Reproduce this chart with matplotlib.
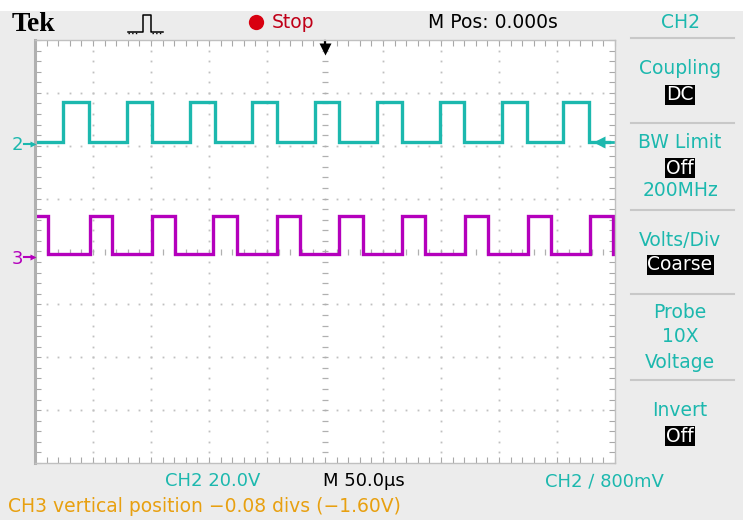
import numpy as np
import matplotlib
matplotlib.use('Agg')
import matplotlib.pyplot as plt
from matplotlib.lines import Line2D

# edge times in us (M Pos = 0 at screen centre), 50 us/div
ch2_rise = [-225.9, -170.7, -116.4, -62.9, -8.6, 44.8, 99.1, 152.6, 205.2]
ch2_fall = [-203.4, -149.1, -94.8, -41.4, 12.1, 66.4, 119.8, 174.1, 227.6]
ch3_fall = [-238.8, -183.6, -129.3, -75.9, -21.6, 32.8, 86.2, 140.5, 194.8, 248.3]
ch3_rise = [-202.6, -149.1, -96.6, -41.4, 12.1, 66.4, 120.7, 175.0, 228.4]

# levels in volts, 20 V/div, offsets in divisions
ch2_levels = [0.0, 15.2]
ch3_levels = [0.6, 15.0]
ch2_offset = 2.07
ch3_offset = -0.08
volts_per_div = 20.0

CYAN = '#1cb8ae'
MAGENTA = '#b400bc'
ORANGE = '#e8a010'
BG = '#ececec'
GRIDC = '#c0c0c0'
FONT = ['Liberation Sans Narrow', 'DejaVu Sans']


def square(start_high, rises, falls, t0, t1, levels):
    edges = sorted([(t, 1) for t in rises] + [(t, 0) for t in falls])
    state = 1 if start_high else 0
    xs, ys = [t0], [levels[state]]
    for t, s in edges:
        xs += [t, t]
        ys += [levels[state], levels[s]]
        state = s
    xs.append(t1)
    ys.append(levels[state])
    return np.array(xs), np.array(ys)


fig = plt.figure(figsize=(7.43, 5.20), dpi=100, facecolor=BG)
W, H = 743.0, 520.0


def fx(px):
    return px / W


def fy(py):
    return 1 - py / H


# white strip at very top of screenshot
fig.add_artist(plt.Rectangle((0, fy(11)), 1, 11 / H, transform=fig.transFigure,
                             facecolor='white', edgecolor='none'))

ax = fig.add_axes([fx(35), fy(463), 580 / W, 423 / H])
ax.set_facecolor('white')
ax.set_xlim(-250, 250)
ax.set_ylim(-4, 4)
for side in ['top', 'bottom', 'right']:
    ax.spines[side].set_color('#c0c0c0')
    ax.spines[side].set_linewidth(1)
ax.spines['left'].set_color('#b0b0b0')
ax.spines['left'].set_linewidth(2.2)

ax.set_xticks(np.arange(-250, 251, 10))
ax.set_yticks(np.arange(-4, 4.01, 0.2))
ax.tick_params(direction='in', length=4, width=0.8, color='#a8a8a8',
               top=True, right=True, labelbottom=False, labelleft=False)

# dotted graticule
for gx in np.arange(-200, 201, 50):
    if gx == 0:
        continue
    yy = np.arange(-4, 4.01, 0.2)
    ax.plot(np.full_like(yy, gx), yy, ls='none', marker='s', ms=1.3, color=GRIDC, mec='none')
for gy in np.arange(-3, 3.01, 1):
    if gy == 0:
        continue
    xx = np.arange(-250, 251, 10)
    ax.plot(xx, np.full_like(xx, gy, dtype=float), ls='none', marker='s', ms=1.3, color=GRIDC, mec='none')
# centre cross with ticks
yy = np.arange(-4, 4.01, 0.2)
ax.plot(np.zeros_like(yy), yy, ls='none', marker='_', ms=5, mew=0.9, color='#b0b0b0')
xx = np.arange(-250, 251, 10)
ax.plot(xx, np.zeros_like(xx, dtype=float), ls='none', marker='|', ms=5, mew=0.9, color='#b0b0b0')

# traces
x2, y2 = square(False, ch2_rise, ch2_fall, -250, 245, ch2_levels)
ax.plot(x2, ch2_offset + y2 / volts_per_div, color=CYAN, lw=2.4, solid_joinstyle='miter')
x3, y3 = square(True, ch3_rise, ch3_fall, -250, 250, ch3_levels)
ax.plot(x3, ch3_offset + y3 / volts_per_div, color=MAGENTA, lw=2.4, solid_joinstyle='miter')

# trigger level arrow (right) and trigger position arrow (top)
ax.plot([236, 248], [ch2_offset, ch2_offset], color=CYAN, lw=2, clip_on=False)
ax.plot([236], [ch2_offset], marker='<', ms=8, color=CYAN, mec='none', clip_on=False)
ax.plot([0, 0], [3.98, 3.85], color='black', lw=1.6, clip_on=False)
ax.plot([0], [3.83], marker='v', ms=8, color='black', mec='none', clip_on=False)

# channel ground markers
fig.text(fx(12), fy(145), '2', color=CYAN, fontsize=13, family=FONT, va='center')
fig.add_artist(Line2D([fx(24), fx(33)], [fy(144), fy(144)], color=CYAN, lw=1.5))
fig.add_artist(Line2D([fx(33)], [fy(144)], marker='>', ms=5, color=CYAN, mec='none'))
fig.text(fx(12), fy(259), '3', color=MAGENTA, fontsize=13, family=FONT, va='center')
fig.add_artist(Line2D([fx(24), fx(33)], [fy(257), fy(257)], color=MAGENTA, lw=1.5))
fig.add_artist(Line2D([fx(33)], [fy(257)], marker='>', ms=5, color=MAGENTA, mec='none'))

# top bar
fig.text(fx(12), fy(24), 'Tek', fontsize=20, fontweight='bold',
         family=['Liberation Serif', 'DejaVu Serif'], va='center', color='black')
px = [128, 138, 139, 143, 143, 151, 151, 152, 163]
py = [32, 32, 32, 32, 15, 15, 32, 32, 32]
fig.add_artist(Line2D([fx(p) for p in px], [fy(p) for p in py], color='black', lw=1.1))
fig.add_artist(Line2D([fx(128), fx(138)], [fy(33), fy(33)], color='black', lw=1, ls=':'))
fig.add_artist(Line2D([fx(152), fx(163)], [fy(33), fy(33)], color='black', lw=1, ls=':'))
fig.add_artist(Line2D([fx(256)], [fy(22)], marker='o', ms=11, color='#d80010', mec='none'))
fig.text(fx(272), fy(23), 'Stop', fontsize=13.5, color='#c00018', family=FONT, va='center')
fig.text(fx(428), fy(23), 'M Pos: 0.000s', fontsize=13.5, color='black', family=FONT, va='center')
fig.text(fx(680), fy(23), 'CH2', fontsize=13.5, color=CYAN, family=FONT, va='center', ha='center')

# right menu
for sy in [38, 123, 210, 294, 380]:
    fig.add_artist(Line2D([fx(631), fx(734)], [fy(sy), fy(sy)], color='#c8c8c8', lw=1.5))

menu = [('Coupling', 68, False), ('DC', 95, True),
        ('BW Limit', 143, False), ('Off', 168, True), ('200MHz', 191, False),
        ('Volts/Div', 240, False), ('Coarse', 265, True),
        ('Probe', 312, False), ('10X', 337, False), ('Voltage', 362, False),
        ('Invert', 410, False), ('Off', 436, True)]
for label, my, boxed in menu:
    if boxed:
        fig.text(fx(680), fy(my), label, fontsize=13.5, color='white', family=FONT,
                 ha='center', va='center',
                 bbox=dict(boxstyle='square,pad=0.05', facecolor='black', edgecolor='none'))
    else:
        fig.text(fx(680), fy(my), label, fontsize=13.5, color=CYAN, family=FONT,
                 ha='center', va='center')

# bottom status
fig.text(fx(165), fy(481), 'CH2 20.0V', fontsize=13, color=CYAN, family=FONT, va='center')
fig.text(fx(323), fy(481), 'M 50.0\u00b5s', fontsize=13, color='black', family=FONT, va='center')
fig.text(fx(545), fy(481), 'CH2 \u2215 800mV', fontsize=13, color=CYAN, family=FONT, va='center')
fig.text(fx(8), fy(507), 'CH3 vertical position \u22120.08 divs (\u22121.60V)', fontsize=13.5,
         color=ORANGE, family=FONT, va='center')

fig.savefig('out.png', dpi=100, facecolor=BG)
